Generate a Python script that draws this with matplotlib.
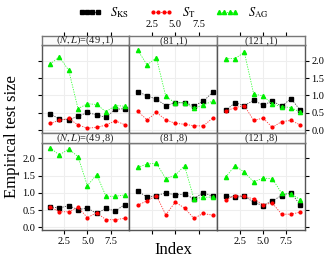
import matplotlib
matplotlib.use("Agg")
import matplotlib.pyplot as plt
from matplotlib.lines import Line2D

plt.rcParams['font.family'] = ['Liberation Serif', 'DejaVu Serif']
plt.rcParams['mathtext.fontset'] = 'stix'

index = [1, 2, 3, 4, 5, 6, 7, 8, 9]
panel_labels = [r"$(N,L)$=(49 ,1)", "(81 ,1)", "(121 ,1)",
                r"$(N,L)$=(49 ,8)", "(81 ,8)", "(121 ,8)"]

s_ks = [
    [0.47, 0.32, 0.30, 0.40, 0.51, 0.44, 0.37, 0.60, 0.62],
    [1.11, 0.99, 0.89, 0.71, 0.79, 0.79, 0.71, 0.83, 1.09],
    [0.57, 0.79, 0.71, 0.86, 0.72, 0.84, 0.69, 0.91, 0.57],
    [0.59, 0.56, 0.63, 0.51, 0.56, 0.40, 0.55, 0.47, 0.66],
    [1.05, 0.88, 0.92, 1.00, 0.94, 0.96, 0.83, 1.01, 0.90],
    [0.91, 0.87, 0.90, 0.73, 0.63, 0.77, 0.92, 1.01, 0.64],
]
s_t = [
    [0.20, 0.28, 0.34, 0.15, 0.06, 0.08, 0.15, 0.27, 0.16],
    [0.54, 0.30, 0.51, 0.30, 0.20, 0.17, 0.13, 0.12, 0.35],
    [0.55, 0.65, 0.71, 0.28, 0.35, 0.08, 0.25, 0.28, 0.15],
    [0.59, 0.45, 0.45, 0.58, 0.28, 0.42, 0.22, 0.22, 0.26],
    [0.64, 0.77, 0.92, 0.36, 0.73, 0.56, 0.26, 0.40, 0.35],
    [0.80, 0.92, 0.90, 0.82, 0.66, 0.70, 0.38, 0.38, 0.44],
]
s_ag = [
    [1.90, 2.11, 1.72, 0.62, 0.76, 0.74, 0.53, 0.71, 0.69],
    [2.30, 1.88, 2.08, 0.97, 0.79, 0.79, 0.63, 0.72, 0.84],
    [2.06, 2.06, 2.24, 1.04, 0.99, 0.75, 0.68, 0.65, 0.52],
    [2.31, 2.10, 2.28, 2.05, 1.21, 1.53, 0.90, 0.90, 0.94],
    [1.74, 1.84, 1.86, 1.41, 1.51, 1.79, 0.83, 0.87, 0.88],
    [1.46, 1.79, 1.60, 1.32, 1.43, 1.41, 0.99, 0.97, 0.80],
]
x_ticks = [2.5, 5.0, 7.5]
y_ticks = [0.0, 0.5, 1.0, 1.5, 2.0]

W, H = 332, 263
fig = plt.figure(figsize=(W / 100, H / 100), dpi=100)


def rect(x0, y0, x1, y1):
    return [x0 / W, 1 - y1 / H, (x1 - x0) / W, (y1 - y0) / H]


cols = [(41.7, 129.3), (129.3, 217.3), (217.3, 305.0)]
rows = [(35.5, 45.0, 133.0), (133.0, 143.0, 230.0)]
xlim = (0.1, 9.5)
ylim = (-0.08, 2.45)
edge = '#555555'
tickfs = 7.5

ks_style = dict(color='#444444', ls=(0, (1.5, 1.5)), lw=0.6, marker='s',
                ms=2.7, mfc='black', mec='black')
t_style = dict(color='#ff3333', ls=(0, (1.5, 1.5)), lw=0.6, marker='o',
               ms=2.0, mfc='red', mec='red')
ag_style = dict(color='#33ff33', ls=(0, (1.5, 1.5)), lw=0.6, marker='^',
                ms=3.0, mfc='#00ee00', mec='#00ee00')

for r, (s0, p0, p1) in enumerate(rows):
    for c, (x0, x1) in enumerate(cols):
        k = r * 3 + c
        ax = fig.add_axes(rect(x0, p0, x1, p1))
        ax.set_xlim(*xlim)
        ax.set_ylim(*ylim)
        ax.set_xticks(x_ticks)
        ax.set_yticks(y_ticks)
        ax.grid(True, color='#eeeeee', lw=0.8)
        ax.set_axisbelow(True)
        for sp in ax.spines.values():
            sp.set_color(edge)
            sp.set_linewidth(1.0)
        ax.plot(index, s_ks[k], zorder=3, **ks_style)
        ax.plot(index, s_t[k], zorder=4, **t_style)
        ax.plot(index, s_ag[k], zorder=5, **ag_style)
        if r == 1:
            ax.tick_params(axis='x', bottom=True, top=False, direction='out',
                           length=3, color='black', labelsize=tickfs,
                           labelbottom=(c != 1), pad=2)
        else:
            ax.tick_params(axis='x', bottom=False, top=False,
                           labelbottom=False)
        left = (c == 0)
        right = (c == 2)
        ax.tick_params(axis='y', left=left, right=right, direction='out',
                       length=3, color='black', labelsize=tickfs,
                       labelleft=(left and r == 1),
                       labelright=(right and r == 0), pad=1.5)
        sax = fig.add_axes(rect(x0, s0, x1, p0))
        sax.set_xlim(*xlim)
        sax.set_ylim(0, 1)
        sax.set_facecolor('#fbfbfb')
        for sp in sax.spines.values():
            sp.set_color('#777777')
            sp.set_linewidth(1.0)
        sax.set_yticks([])
        if r == 0:
            sax.set_xticks(x_ticks)
            sax.tick_params(axis='x', top=True, bottom=False, direction='out',
                            length=3, color='black', labelsize=tickfs,
                            labeltop=(c == 1), labelbottom=False, pad=1.5)
        else:
            sax.set_xticks([])
        sax.text(0.5, 0.45, panel_labels[k], transform=sax.transAxes,
                 ha='center', va='center', fontsize=7.5, color='#222222')

handles = [Line2D([], [], **ks_style), Line2D([], [], **t_style),
           Line2D([], [], **ag_style)]
labels = [r"$S_{\mathrm{KS}}$", r"$S_{\mathrm{T}}$", r"$S_{\mathrm{AG}}$"]
fig.legend(handles, labels, loc='center', bbox_to_anchor=(173 / W, 1 - 13 / H),
           ncol=3, frameon=False, fontsize=9, handlelength=1.9,
           markerfirst=True, columnspacing=1.6, handletextpad=0.7,
           numpoints=4)

fig.text(173 / W, 1 - 250 / H, "Index", ha='center', va='center', fontsize=12)
fig.text(12 / W, 1 - 137 / H, "Empirical test size", ha='center', va='center',
         rotation=90, fontsize=12)

fig.savefig("out.png", dpi=100)
